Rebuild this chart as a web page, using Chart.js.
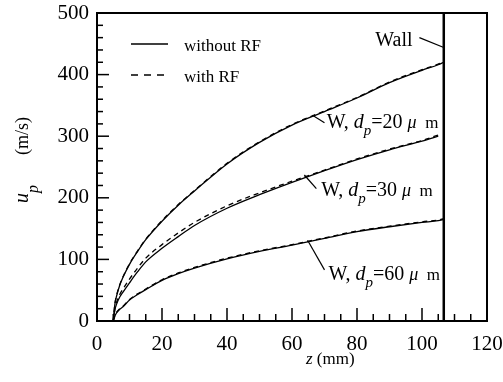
<!DOCTYPE html>
<html>
<head>
<meta charset="utf-8">
<script src="https://cdn.jsdelivr.net/npm/chart.js@4.4.1/dist/chart.umd.min.js"></script>
<style>html,body{margin:0;padding:0;background:#fff}</style>
</head>
<body>
<canvas id="c" width="503" height="382"></canvas>
<script>
// particle velocity u_p (m/s) along z (mm)
const zMm = [5, 5.5, 6, 7, 8, 10, 12.5, 15, 20, 25, 30, 40, 50, 60, 70, 80, 90, 100, 105, 106.7];
const w20NoRF  = [0, 27, 40, 58, 71, 92, 113, 132, 162, 188, 211, 255, 290, 318, 340, 362, 387, 407, 416, 420];
const w20RF    = [0, 28, 41, 59, 72, 93, 114, 133, 163, 189, 212, 256, 291, 319, 341, 363, 388, 408, 417, 421];
const w30NoRF  = [0, 18, 27, 39, 47, 62, 80, 96, 118, 137, 155, 183, 205, 225, 244, 262, 278, 292, 300, null];
const w30RF    = [0, 20, 30, 43, 52, 68, 86, 102, 124, 143, 160, 187, 208, 227, 245, 263, 279, 293, 302, null];
const w60NoRF  = [0, 8, 13, 19, 23, 34, 43, 51, 66, 77, 86, 101, 113, 123, 134, 145, 153, 160, 163, 165];
const w60RF    = [0, 8, 14, 20, 24, 35, 44, 52, 67, 78, 87, 102, 114, 124, 135, 146, 154, 161, 164, 166];
const wallZ = 106.7;
const xTicks = [0, 20, 40, 60, 80, 100, 120];
const yTicks = [0, 100, 200, 300, 400, 500];

const SERIF = '"Liberation Serif", serif';
Chart.defaults.font.family = SERIF;
Chart.defaults.color = "#000";

const pts = ys => zMm.map((z, i) => ({x: z, y: ys[i]})).filter(p => p.y !== null);
const curve = (ys, dashed) => ({
  data: pts(ys), borderColor: "#000", borderWidth: 1.3,
  borderDash: dashed ? [5, 4] : [], pointRadius: 0,
  showLine: true, cubicInterpolationMode: "monotone"
});

// rich text: [text, font, dy]
function rich(ctx, x, y, parts, align) {
  let w = 0;
  for (const [t, f] of parts) { ctx.font = f; w += ctx.measureText(t).width; }
  let cx = align === "right" ? x - w : x;
  for (const [t, f, dy] of parts) {
    ctx.font = f; ctx.fillText(t, cx, y + (dy || 0));
    cx += ctx.measureText(t).width;
  }
}
const nf = s => s + "px " + SERIF, itf = s => "italic " + s + "px " + SERIF;

const frame = {
  id: "frame",
  afterDatasetsDraw(chart) {
    const {ctx, chartArea: a, scales: {x, y}} = chart;
    const seg = (x1, y1, x2, y2) => { ctx.beginPath(); ctx.moveTo(x1, y1); ctx.lineTo(x2, y2); ctx.stroke(); };
    ctx.save();
    ctx.strokeStyle = "#000"; ctx.fillStyle = "#000";
    // inward ticks
    ctx.lineWidth = 1.5;
    for (let v = x.min; v <= x.max; v += 5) {
      const px = x.getPixelForValue(v);
      seg(px, a.bottom, px, a.bottom - (v % 20 === 0 ? 13 : 7));
    }
    for (let v = y.min; v <= y.max; v += 20) {
      const py = y.getPixelForValue(v);
      seg(a.left, py, a.left + (v % 100 === 0 ? 12 : 6), py);
    }
    ctx.lineWidth = 2;
    ctx.strokeRect(a.left, a.top, a.right - a.left, a.bottom - a.top);

    // legend
    ctx.lineWidth = 1.3;
    seg(131, 44, 168, 44);
    ctx.setLineDash([7, 6]); seg(131, 75, 168, 75); ctx.setLineDash([]);
    ctx.textBaseline = "alphabetic";
    rich(ctx, 184, 51, [["without RF", nf(17)]]);
    rich(ctx, 184, 82, [["with RF", nf(17)]]);

    // annotations with leader lines (data coords)
    const P = (zz, vv) => [x.getPixelForValue(zz), y.getPixelForValue(vv)];
    const notes = [
      {from: [66.3, 334], to: [70, 322], at: [70.7, 313], d: "20"},
      {from: [63.8, 237], to: [67.5, 215], at: [69, 203], d: "30"},
      {from: [64.8, 131], to: [70, 83], at: [71.2, 66.5], d: "60"}
    ];
    ctx.lineWidth = 1.2;
    for (const n of notes) {
      seg(...P(...n.from), ...P(...n.to));
      const [tx, ty] = P(...n.at);
      rich(ctx, tx, ty, [["W, ", nf(20)], ["d", itf(20)], ["p", itf(15), 7], ["=" + n.d + " ", nf(20)], ["μ", itf(18)], ["  m", nf(17)]]);
    }
    seg(...P(99.2, 460), ...P(wallZ, 444));
    const [wx, wy] = P(97.1, 447);
    rich(ctx, wx, wy, [["Wall", nf(20)]], "right");

    // axis titles
    rich(ctx, 306, 364, [["z", itf(17)], [" (mm)", nf(17)]]);
    ctx.translate(28, 203); ctx.rotate(-Math.PI / 2);
    rich(ctx, 0, 0, [["u", itf(20)], ["p", itf(16), 10]]);
    rich(ctx, 48, 0, [["(m/s)", nf(18)]]);
    ctx.restore();
  }
};

new Chart(document.getElementById("c"), {
  type: "scatter",
  data: {datasets: [
    curve(w20NoRF, false), curve(w20RF, true),
    curve(w30NoRF, false), curve(w30RF, true),
    curve(w60NoRF, false), curve(w60RF, true),
    {data: [{x: wallZ, y: 0}, {x: wallZ, y: 500}], borderColor: "#000", borderWidth: 2.5, pointRadius: 0, showLine: true}
  ]},
  options: {
    responsive: false, animation: false, events: [],
    layout: {padding: {left: 0, top: 13, right: 16, bottom: 0}},
    plugins: {legend: {display: false}, tooltip: {enabled: false}},
    scales: {
      x: {type: "linear", min: 0, max: 120,
        afterBuildTicks: s => { s.ticks = xTicks.map(v => ({value: v})); },
        afterFit: s => { s.height = 61; s.paddingLeft = 0; s.paddingRight = 0; },
        ticks: {font: {family: SERIF, size: 21}, color: "#000", padding: 11, maxRotation: 0},
        grid: {display: false, drawTicks: false}, border: {display: false}},
      y: {type: "linear", min: 0, max: 500,
        afterBuildTicks: s => { s.ticks = yTicks.map(v => ({value: v})); },
        afterFit: s => { s.width = 97; s.paddingTop = 0; s.paddingBottom = 0; },
        ticks: {font: {family: SERIF, size: 21}, color: "#000", padding: 8},
        grid: {display: false, drawTicks: false}, border: {display: false}}
    }
  },
  plugins: [frame]
});
</script>
</body>
</html>
